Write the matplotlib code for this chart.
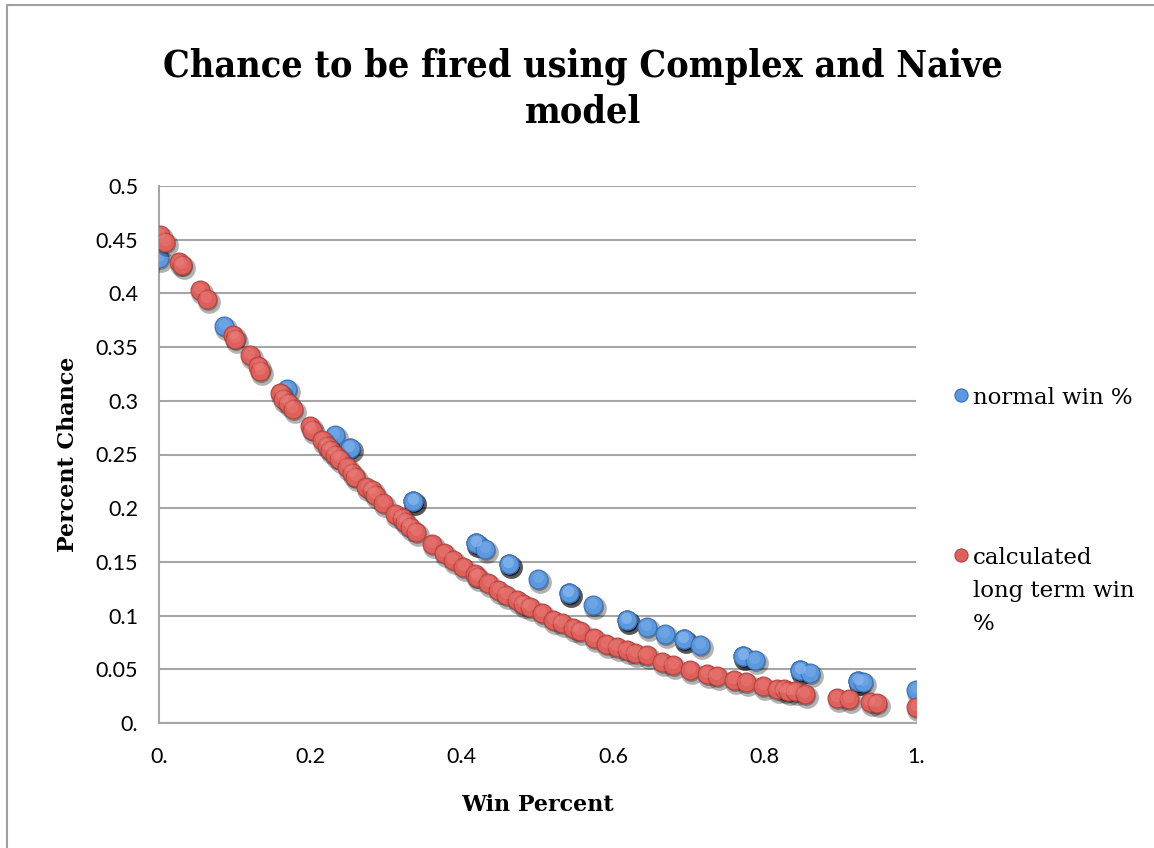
import matplotlib
matplotlib.use("Agg")
import matplotlib.pyplot as plt
from matplotlib.lines import Line2D
from matplotlib.transforms import offset_copy
from matplotlib.ticker import FixedLocator, FixedFormatter

# Normal win % model
normal_x = [0.0, 0.086, 0.169, 0.232, 0.252, 0.252, 0.336, 0.336, 0.336,
            0.419, 0.419, 0.419, 0.431, 0.462, 0.462, 0.462, 0.501,
            0.541, 0.541, 0.541, 0.573, 0.618, 0.618, 0.618, 0.644,
            0.668, 0.693, 0.693, 0.693, 0.715, 0.772, 0.772, 0.772, 0.787,
            0.847, 0.847, 0.847, 0.860, 0.924, 0.924, 0.924, 0.930, 1.0]
normal_y = [0.433, 0.370, 0.311, 0.268, 0.256, 0.256, 0.207, 0.207, 0.207,
            0.168, 0.168, 0.168, 0.162, 0.148, 0.148, 0.148, 0.134,
            0.121, 0.121, 0.121, 0.110, 0.096, 0.096, 0.096, 0.089,
            0.083, 0.078, 0.078, 0.078, 0.073, 0.062, 0.062, 0.062, 0.059,
            0.049, 0.049, 0.049, 0.047, 0.039, 0.039, 0.039, 0.038, 0.031]

# Calculated long term win % model
calc_x = [0.001, 0.008, 0.026, 0.030, 0.054, 0.063, 0.098, 0.101, 0.120,
          0.131, 0.134, 0.160, 0.164, 0.171, 0.177, 0.199, 0.202, 0.215,
          0.2215, 0.226, 0.2325, 0.238, 0.249, 0.2545, 0.259, 0.274, 0.281,
          0.285, 0.296, 0.312, 0.3206, 0.325, 0.3316, 0.340, 0.360, 0.376,
          0.388, 0.402, 0.4175, 0.420, 0.435, 0.448, 0.459, 0.4725, 0.481,
          0.490, 0.5055, 0.521, 0.532, 0.547, 0.556, 0.574, 0.591, 0.605,
          0.618, 0.629, 0.644, 0.664, 0.679, 0.7015, 0.7235, 0.737, 0.759,
          0.776, 0.798, 0.816, 0.825, 0.831, 0.840, 0.853, 0.895, 0.911,
          0.939, 0.948, 1.0]
calc_y = [0.454, 0.448, 0.4295, 0.4265, 0.403, 0.3945, 0.361, 0.358, 0.3426,
          0.332, 0.328, 0.3075, 0.302, 0.298, 0.292, 0.2765, 0.273, 0.2635,
          0.258, 0.254, 0.2495, 0.2455, 0.238, 0.2325, 0.229, 0.220, 0.217,
          0.212, 0.205, 0.195, 0.1906, 0.1874, 0.1828, 0.178, 0.167, 0.158,
          0.152, 0.1455, 0.139, 0.136, 0.130, 0.124, 0.119, 0.1145, 0.111,
          0.108, 0.102, 0.096, 0.093, 0.088, 0.086, 0.079, 0.074, 0.071,
          0.068, 0.0655, 0.063, 0.057, 0.054, 0.049, 0.046, 0.044, 0.040,
          0.0385, 0.0344, 0.032, 0.032, 0.030, 0.030, 0.0273, 0.0236, 0.0227,
          0.0198, 0.019, 0.0152]

y_ticks = [0.0, 0.05, 0.1, 0.15, 0.2, 0.25, 0.3, 0.35, 0.4, 0.45, 0.5]
y_labels = ["0.", "0.05", "0.1", "0.15", "0.2", "0.25", "0.3", "0.35", "0.4", "0.45", "0.5"]
x_ticks = [0.0, 0.2, 0.4, 0.6, 0.8, 1.0]
x_labels = ["0.", "0.2", "0.4", "0.6", "0.8", "1."]

title = "Chance to be fired using Complex and Naive\nmodel"
series_names = ["normal win %", "calculated\nlong term win\n%"]

BLUE, BLUE_EDGE, BLUE_HI = "#5b98de", "#3c70b2", "#8ab8ee"
RED, RED_EDGE, RED_HI = "#de605b", "#b5433e", "#ee8a86"
GRID = "#a6a6a6"
SERIF = "DejaVu Serif"
SANS = "Lato"

W, H = 1154, 848
fig = plt.figure(figsize=(W / 100, H / 100), dpi=100)
ax = fig.add_axes([159 / W, 1 - 723 / H, (916 - 159) / W, (723 - 186) / H])

ax.set_xlim(0, 1)
ax.set_ylim(0, 0.5)
for s in ("top", "right"):
    ax.spines[s].set_visible(False)
for s in ("left", "bottom"):
    ax.spines[s].set_color(GRID)
    ax.spines[s].set_linewidth(1.5)
ax.yaxis.set_major_locator(FixedLocator(y_ticks))
ax.yaxis.set_major_formatter(FixedFormatter(y_labels))
ax.xaxis.set_major_locator(FixedLocator(x_ticks))
ax.xaxis.set_major_formatter(FixedFormatter(x_labels))
ax.tick_params(axis="both", length=0, labelsize=15.5, colors="black")
ax.tick_params(axis="y", pad=15)
ax.tick_params(axis="x", pad=17)
for lab in ax.get_xticklabels() + ax.get_yticklabels():
    lab.set_fontfamily(SANS)
ax.grid(axis="y", color=GRID, linewidth=1.5)
ax.set_axisbelow(True)

shadow_a = offset_copy(ax.transData, fig=fig, x=2, y=-3, units="dots")
shadow_b = offset_copy(ax.transData, fig=fig, x=1, y=-2, units="dots")
highlight = offset_copy(ax.transData, fig=fig, x=-0.5, y=2, units="dots")
MS = 185


def draw_series(xs, ys, face, edge, hi, z):
    ax.scatter(xs, ys, s=MS * 1.45, color="black", alpha=0.3, linewidths=0,
               transform=shadow_a, zorder=z)
    ax.scatter(xs, ys, s=MS, color="black", alpha=0.3, linewidths=0,
               transform=shadow_b, zorder=z + 0.1)
    ax.scatter(xs, ys, s=MS, color=face, edgecolors=edge, linewidths=0.8,
               zorder=z + 0.2)
    ax.scatter(xs, ys, s=MS * 0.35, color=hi, alpha=0.35, linewidths=0,
               transform=highlight, zorder=z + 0.3)


draw_series(normal_x, normal_y, BLUE, BLUE_EDGE, BLUE_HI, 3)
draw_series(calc_x, calc_y, RED, RED_EDGE, RED_HI, 4)

ax.set_xlabel("Win Percent", fontfamily=SERIF, fontweight="bold", fontsize=16, labelpad=20)
ax.set_ylabel("Percent Chance", fontfamily=SERIF, fontweight="bold", fontsize=16, labelpad=12)

fig.text(583 / W, 1 - 89 / H, title, ha="center", va="center", fontfamily=SERIF,
         fontweight="bold", fontstretch="condensed", fontsize=27, linespacing=1.3)

# Legend entries
legend_items = [(series_names[0], BLUE, BLUE_EDGE, 395),
                (series_names[1], RED, RED_EDGE, 555)]
for text, face, edge, ypix in legend_items:
    fig.add_artist(Line2D([961 / W], [1 - ypix / H], transform=fig.transFigure,
                          marker="o", markersize=9.5, markerfacecolor=face,
                          markeredgecolor=edge, markeredgewidth=0.8, linestyle="none"))
    fig.text(973 / W, 1 - (ypix - 8) / H, text, ha="left", va="top",
             fontfamily=SERIF, fontsize=16.5, linespacing=1.65)

# Outer chart frame
fig.add_artist(Line2D([7 / W, 7 / W, 1.0], [0.0, 1 - 5 / H, 1 - 5 / H],
                      transform=fig.transFigure, color="#a0a0a0", linewidth=1.5))

fig.savefig("out.png", dpi=100)
